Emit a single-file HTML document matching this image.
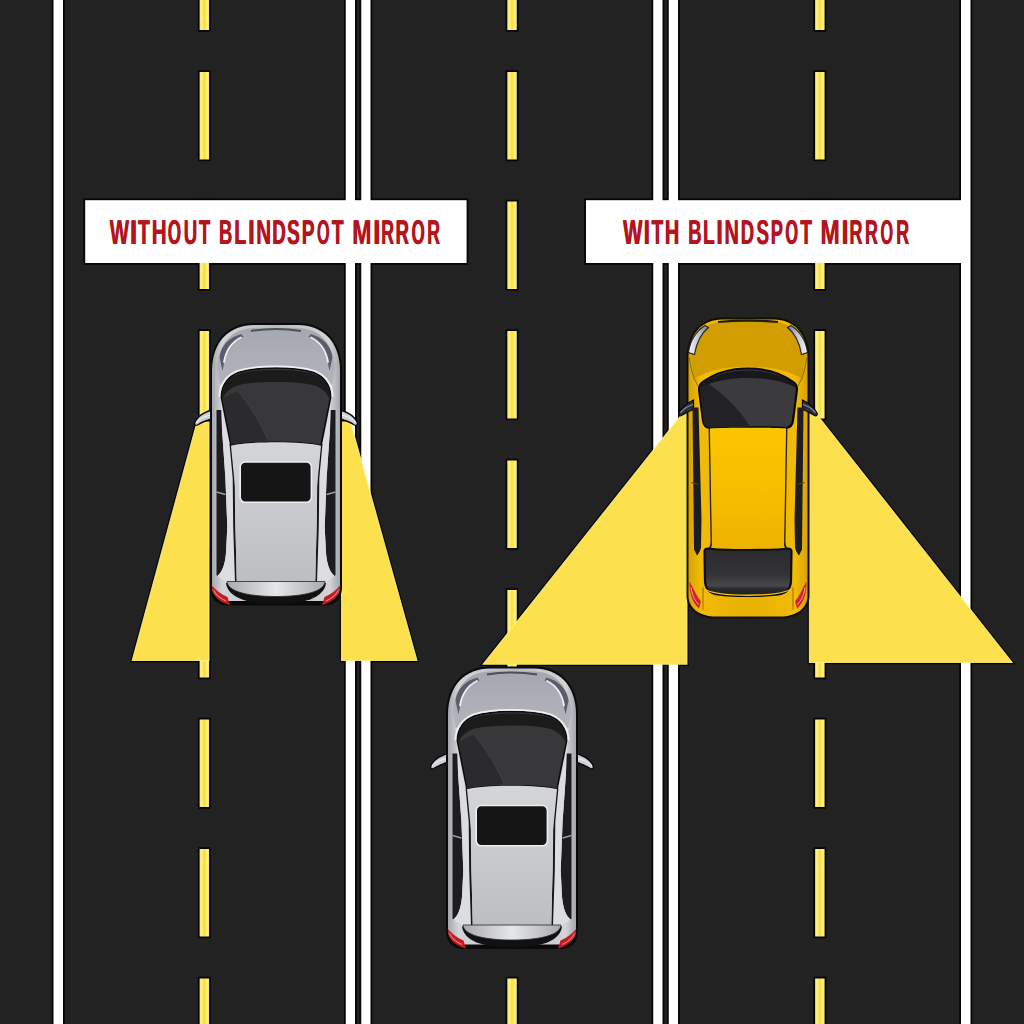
<!DOCTYPE html>
<html><head><meta charset="utf-8">
<style>
html,body{margin:0;padding:0;background:#222222;width:1024px;height:1024px;overflow:hidden}
svg{display:block}
</style></head>
<body>
<svg width="1024" height="1024" viewBox="0 0 1024 1024">
<defs>
<linearGradient id="dashG" x1="0" x2="1" y1="0" y2="0">
  <stop offset="0" stop-color="#efe070"/><stop offset="0.18" stop-color="#fff486"/><stop offset="0.5" stop-color="#fcdc40"/><stop offset="0.82" stop-color="#fff486"/><stop offset="1" stop-color="#efe070"/>
</linearGradient>
<linearGradient id="sBody" x1="0" x2="1" y1="0" y2="0">
  <stop offset="0" stop-color="#a5a6ac"/><stop offset="0.08" stop-color="#d3d4d8"/><stop offset="0.5" stop-color="#b9bac0"/><stop offset="0.92" stop-color="#d3d4d8"/><stop offset="1" stop-color="#a5a6ac"/>
</linearGradient>
<linearGradient id="sHood" x1="0" x2="0" y1="0" y2="1">
  <stop offset="0" stop-color="#a6a8b1"/><stop offset="1" stop-color="#b3b4bb"/>
</linearGradient>
<linearGradient id="sGlass" x1="0" x2="0" y1="0" y2="1">
  <stop offset="0" stop-color="#2c2c2e"/><stop offset="0.4" stop-color="#3f3f42"/><stop offset="1" stop-color="#2a2a2c"/>
</linearGradient>
<linearGradient id="sRoof" x1="0" x2="0" y1="0" y2="1">
  <stop offset="0" stop-color="#d4d5d8"/><stop offset="0.5" stop-color="#c9cacd"/><stop offset="1" stop-color="#bdbec2"/>
</linearGradient>
<linearGradient id="sSpoiler" x1="0" x2="1" y1="0" y2="0">
  <stop offset="0" stop-color="#a9aaae"/><stop offset="0.5" stop-color="#e6e7ea"/><stop offset="1" stop-color="#a9aaae"/>
</linearGradient>
<linearGradient id="yBody" x1="0" x2="1" y1="0" y2="0">
  <stop offset="0" stop-color="#d9a200"/><stop offset="0.1" stop-color="#f2bb08"/><stop offset="0.5" stop-color="#e9b100"/><stop offset="0.9" stop-color="#f2bb08"/><stop offset="1" stop-color="#d9a200"/>
</linearGradient>
<linearGradient id="yGlass" x1="0" x2="0" y1="0" y2="1">
  <stop offset="0" stop-color="#2e2e32"/><stop offset="1" stop-color="#444448"/>
</linearGradient>
<linearGradient id="yRoof" x1="0" x2="0" y1="0" y2="1">
  <stop offset="0" stop-color="#fbc500"/><stop offset="0.5" stop-color="#f7bf00"/><stop offset="1" stop-color="#ecb300"/>
</linearGradient>
<linearGradient id="yRear" x1="0" x2="0" y1="0" y2="1">
  <stop offset="0" stop-color="#2b2b2e"/><stop offset="0.55" stop-color="#333336"/><stop offset="0.78" stop-color="#48484b"/><stop offset="0.85" stop-color="#2a2a2c"/><stop offset="1" stop-color="#1e1e20"/>
</linearGradient>
<linearGradient id="yHL" x1="0" x2="1" y1="0" y2="0">
  <stop offset="0" stop-color="#f4f5fb"/><stop offset="0.6" stop-color="#b9bccb"/><stop offset="1" stop-color="#6d7080"/>
</linearGradient>
</defs>
<rect x="0" y="0" width="1024" height="1024" fill="#222222"/>
<g fill="#060606">
<rect x="51.70" y="-5" width="13.10" height="1034"/>
<rect x="343.95" y="-5" width="12.85" height="1034"/>
<rect x="359.45" y="-5" width="12.85" height="1034"/>
<rect x="651.45" y="-5" width="12.85" height="1034"/>
<rect x="666.95" y="-5" width="12.85" height="1034"/>
<rect x="959.20" y="-5" width="13.10" height="1034"/>
<rect x="83.4" y="198.4" width="385" height="66.4"/>
<rect x="584.2" y="198.4" width="380" height="66.4"/>
<rect x="197.8" y="-59.3" width="13.1" height="91.1" rx="1.2"/>
<rect x="197.8" y="70.2" width="13.1" height="91.1" rx="1.2"/>
<rect x="197.8" y="199.7" width="13.1" height="91.1" rx="1.2"/>
<rect x="197.8" y="329.2" width="13.1" height="91.1" rx="1.2"/>
<rect x="197.8" y="458.7" width="13.1" height="91.1" rx="1.2"/>
<rect x="197.8" y="588.2" width="13.1" height="91.1" rx="1.2"/>
<rect x="197.8" y="717.7" width="13.1" height="91.1" rx="1.2"/>
<rect x="197.8" y="847.2" width="13.1" height="91.1" rx="1.2"/>
<rect x="197.8" y="976.7" width="13.1" height="91.1" rx="1.2"/>
<rect x="197.8" y="1106.2" width="13.1" height="91.1" rx="1.2"/>
<rect x="505.5" y="-59.3" width="13.1" height="91.1" rx="1.2"/>
<rect x="505.5" y="70.2" width="13.1" height="91.1" rx="1.2"/>
<rect x="505.5" y="199.7" width="13.1" height="91.1" rx="1.2"/>
<rect x="505.5" y="329.2" width="13.1" height="91.1" rx="1.2"/>
<rect x="505.5" y="458.7" width="13.1" height="91.1" rx="1.2"/>
<rect x="505.5" y="588.2" width="13.1" height="91.1" rx="1.2"/>
<rect x="505.5" y="717.7" width="13.1" height="91.1" rx="1.2"/>
<rect x="505.5" y="847.2" width="13.1" height="91.1" rx="1.2"/>
<rect x="505.5" y="976.7" width="13.1" height="91.1" rx="1.2"/>
<rect x="505.5" y="1106.2" width="13.1" height="91.1" rx="1.2"/>
<rect x="813.3" y="-59.3" width="13.1" height="91.1" rx="1.2"/>
<rect x="813.3" y="70.2" width="13.1" height="91.1" rx="1.2"/>
<rect x="813.3" y="199.7" width="13.1" height="91.1" rx="1.2"/>
<rect x="813.3" y="329.2" width="13.1" height="91.1" rx="1.2"/>
<rect x="813.3" y="458.7" width="13.1" height="91.1" rx="1.2"/>
<rect x="813.3" y="588.2" width="13.1" height="91.1" rx="1.2"/>
<rect x="813.3" y="717.7" width="13.1" height="91.1" rx="1.2"/>
<rect x="813.3" y="847.2" width="13.1" height="91.1" rx="1.2"/>
<rect x="813.3" y="976.7" width="13.1" height="91.1" rx="1.2"/>
<rect x="813.3" y="1106.2" width="13.1" height="91.1" rx="1.2"/>
<polygon points="197,422 209,422 209,660.5 132.2,660.5" stroke="#060606" stroke-width="3.4" stroke-linejoin="miter"/>
<polygon points="341.5,422 350.5,422 417,660.5 341.5,660.5" stroke="#060606" stroke-width="3.4" stroke-linejoin="miter"/>
<polygon points="680.5,416 687,413 687,664.2 483,664.2" stroke="#060606" stroke-width="3.4" stroke-linejoin="miter"/>
<polygon points="809.4,413 818,416 1012.2,662.5 809.4,662.5" stroke="#060606" stroke-width="3.4" stroke-linejoin="miter"/>
</g>
<g fill="#ffffff">
<rect x="53.50" y="-5" width="9.50" height="1034"/>
<rect x="345.75" y="-5" width="9.25" height="1034"/>
<rect x="361.25" y="-5" width="9.25" height="1034"/>
<rect x="653.25" y="-5" width="9.25" height="1034"/>
<rect x="668.75" y="-5" width="9.25" height="1034"/>
<rect x="961.00" y="-5" width="9.50" height="1034"/>
</g>
<g fill="url(#dashG)">
<rect x="199.6" y="-57.5" width="9.5" height="87.5"/>
<rect x="199.6" y="72.0" width="9.5" height="87.5"/>
<rect x="199.6" y="201.5" width="9.5" height="87.5"/>
<rect x="199.6" y="331.0" width="9.5" height="87.5"/>
<rect x="199.6" y="460.5" width="9.5" height="87.5"/>
<rect x="199.6" y="590.0" width="9.5" height="87.5"/>
<rect x="199.6" y="719.5" width="9.5" height="87.5"/>
<rect x="199.6" y="849.0" width="9.5" height="87.5"/>
<rect x="199.6" y="978.5" width="9.5" height="87.5"/>
<rect x="199.6" y="1108.0" width="9.5" height="87.5"/>
<rect x="507.3" y="-57.5" width="9.5" height="87.5"/>
<rect x="507.3" y="72.0" width="9.5" height="87.5"/>
<rect x="507.3" y="201.5" width="9.5" height="87.5"/>
<rect x="507.3" y="331.0" width="9.5" height="87.5"/>
<rect x="507.3" y="460.5" width="9.5" height="87.5"/>
<rect x="507.3" y="590.0" width="9.5" height="87.5"/>
<rect x="507.3" y="719.5" width="9.5" height="87.5"/>
<rect x="507.3" y="849.0" width="9.5" height="87.5"/>
<rect x="507.3" y="978.5" width="9.5" height="87.5"/>
<rect x="507.3" y="1108.0" width="9.5" height="87.5"/>
<rect x="815.1" y="-57.5" width="9.5" height="87.5"/>
<rect x="815.1" y="72.0" width="9.5" height="87.5"/>
<rect x="815.1" y="201.5" width="9.5" height="87.5"/>
<rect x="815.1" y="331.0" width="9.5" height="87.5"/>
<rect x="815.1" y="460.5" width="9.5" height="87.5"/>
<rect x="815.1" y="590.0" width="9.5" height="87.5"/>
<rect x="815.1" y="719.5" width="9.5" height="87.5"/>
<rect x="815.1" y="849.0" width="9.5" height="87.5"/>
<rect x="815.1" y="978.5" width="9.5" height="87.5"/>
<rect x="815.1" y="1108.0" width="9.5" height="87.5"/>
</g>
<g fill="#fde04e" stroke="#fff184" stroke-width="1.1" stroke-opacity="0.85">
<polygon points="197,422 209,422 209,660.5 132.2,660.5"/>
<polygon points="341.5,422 350.5,422 417,660.5 341.5,660.5"/>
<polygon points="680.5,416 687,413 687,664.2 483,664.2"/>
<polygon points="809.4,413 818,416 1012.2,662.5 809.4,662.5"/>
</g>
<g fill="#ffffff">
<rect x="85.2" y="200.2" width="381.4" height="62.8"/>
<rect x="586" y="200.2" width="380" height="62.8"/>
</g>
<g font-family="Liberation Sans" font-weight="bold" font-size="34.448" text-rendering="geometricPrecision" fill="#b5141c">
<text transform="translate(109.38,243.80) scale(0.5923,1)">W</text>
<text transform="translate(109.98,243.80) scale(0.5923,1)">W</text>
<text transform="translate(129.62,243.80) scale(0.7714,1)">I</text>
<text transform="translate(130.22,243.80) scale(0.7714,1)">I</text>
<text transform="translate(137.79,243.80) scale(0.5529,1)">T</text>
<text transform="translate(138.39,243.80) scale(0.5529,1)">T</text>
<text transform="translate(151.52,243.80) scale(0.5984,1)">H</text>
<text transform="translate(152.12,243.80) scale(0.5984,1)">H</text>
<text transform="translate(167.61,243.80) scale(0.4894,1)">O</text>
<text transform="translate(168.21,243.80) scale(0.4894,1)">O</text>
<text transform="translate(183.38,243.80) scale(0.5419,1)">U</text>
<text transform="translate(183.98,243.80) scale(0.5419,1)">U</text>
<text transform="translate(198.70,243.80) scale(0.5332,1)">T</text>
<text transform="translate(199.30,243.80) scale(0.5332,1)">T</text>
<text transform="translate(218.77,243.80) scale(0.5339,1)">B</text>
<text transform="translate(219.37,243.80) scale(0.5339,1)">B</text>
<text transform="translate(234.10,243.80) scale(0.5613,1)">L</text>
<text transform="translate(234.70,243.80) scale(0.5613,1)">L</text>
<text transform="translate(247.81,243.80) scale(0.6902,1)">I</text>
<text transform="translate(248.41,243.80) scale(0.6902,1)">I</text>
<text transform="translate(255.92,243.80) scale(0.5984,1)">N</text>
<text transform="translate(256.52,243.80) scale(0.5984,1)">N</text>
<text transform="translate(272.06,243.80) scale(0.5360,1)">D</text>
<text transform="translate(272.66,243.80) scale(0.5360,1)">D</text>
<text transform="translate(286.85,243.80) scale(0.5486,1)">S</text>
<text transform="translate(287.45,243.80) scale(0.5486,1)">S</text>
<text transform="translate(301.52,243.80) scale(0.5549,1)">P</text>
<text transform="translate(302.12,243.80) scale(0.5549,1)">P</text>
<text transform="translate(316.64,243.80) scale(0.4685,1)">O</text>
<text transform="translate(317.24,243.80) scale(0.4685,1)">O</text>
<text transform="translate(331.59,243.80) scale(0.5529,1)">T</text>
<text transform="translate(332.19,243.80) scale(0.5529,1)">T</text>
<text transform="translate(351.95,243.80) scale(0.6696,1)">M</text>
<text transform="translate(352.55,243.80) scale(0.6696,1)">M</text>
<text transform="translate(372.82,243.80) scale(0.7714,1)">I</text>
<text transform="translate(373.42,243.80) scale(0.7714,1)">I</text>
<text transform="translate(380.91,243.80) scale(0.5136,1)">R</text>
<text transform="translate(381.51,243.80) scale(0.5136,1)">R</text>
<text transform="translate(395.36,243.80) scale(0.5366,1)">R</text>
<text transform="translate(395.96,243.80) scale(0.5366,1)">R</text>
<text transform="translate(411.31,243.80) scale(0.4894,1)">O</text>
<text transform="translate(411.91,243.80) scale(0.4894,1)">O</text>
<text transform="translate(427.01,243.80) scale(0.5136,1)">R</text>
<text transform="translate(427.61,243.80) scale(0.5136,1)">R</text>
<text transform="translate(622.78,243.80) scale(0.5923,1)">W</text>
<text transform="translate(623.38,243.80) scale(0.5923,1)">W</text>
<text transform="translate(643.21,243.80) scale(0.6902,1)">I</text>
<text transform="translate(643.81,243.80) scale(0.6902,1)">I</text>
<text transform="translate(651.19,243.80) scale(0.5579,1)">T</text>
<text transform="translate(651.79,243.80) scale(0.5579,1)">T</text>
<text transform="translate(664.56,243.80) scale(0.5786,1)">H</text>
<text transform="translate(665.16,243.80) scale(0.5786,1)">H</text>
<text transform="translate(687.97,243.80) scale(0.5339,1)">B</text>
<text transform="translate(688.57,243.80) scale(0.5339,1)">B</text>
<text transform="translate(702.70,243.80) scale(0.5613,1)">L</text>
<text transform="translate(703.30,243.80) scale(0.5613,1)">L</text>
<text transform="translate(716.05,243.80) scale(0.6699,1)">I</text>
<text transform="translate(716.65,243.80) scale(0.6699,1)">I</text>
<text transform="translate(724.16,243.80) scale(0.5786,1)">N</text>
<text transform="translate(724.76,243.80) scale(0.5786,1)">N</text>
<text transform="translate(740.46,243.80) scale(0.5360,1)">D</text>
<text transform="translate(741.06,243.80) scale(0.5360,1)">D</text>
<text transform="translate(756.16,243.80) scale(0.5437,1)">S</text>
<text transform="translate(756.76,243.80) scale(0.5437,1)">S</text>
<text transform="translate(770.38,243.80) scale(0.5292,1)">P</text>
<text transform="translate(770.98,243.80) scale(0.5292,1)">P</text>
<text transform="translate(785.03,243.80) scale(0.4727,1)">O</text>
<text transform="translate(785.63,243.80) scale(0.4727,1)">O</text>
<text transform="translate(799.99,243.80) scale(0.5579,1)">T</text>
<text transform="translate(800.59,243.80) scale(0.5579,1)">T</text>
<text transform="translate(820.15,243.80) scale(0.6696,1)">M</text>
<text transform="translate(820.75,243.80) scale(0.6696,1)">M</text>
<text transform="translate(841.36,243.80) scale(0.7105,1)">I</text>
<text transform="translate(841.96,243.80) scale(0.7105,1)">I</text>
<text transform="translate(849.19,243.80) scale(0.5228,1)">R</text>
<text transform="translate(849.79,243.80) scale(0.5228,1)">R</text>
<text transform="translate(864.70,243.80) scale(0.5182,1)">R</text>
<text transform="translate(865.30,243.80) scale(0.5182,1)">R</text>
<text transform="translate(880.24,243.80) scale(0.4685,1)">O</text>
<text transform="translate(880.84,243.80) scale(0.4685,1)">O</text>
<text transform="translate(895.90,243.80) scale(0.5182,1)">R</text>
<text transform="translate(896.50,243.80) scale(0.5182,1)">R</text>
</g>

<g transform="translate(276,325)"><g>
  <path d="M -81,97 C -78,90.5 -70,86 -62,84.5 L -61.5,93.5 C -67.5,94.5 -74,97 -78.5,100 C -80.5,101 -82,99.5 -81,97 Z" fill="#cfd0d5" stroke="#090909" stroke-width="1.3"/>
  <path d="M -80,97.5 C -76,93 -70,90.5 -63,89.5" fill="none" stroke="#f2f3f6" stroke-width="1"/>
<g transform="scale(-1,1)">
  <path d="M -81,97 C -78,90.5 -70,86 -62,84.5 L -61.5,93.5 C -67.5,94.5 -74,97 -78.5,100 C -80.5,101 -82,99.5 -81,97 Z" fill="#cfd0d5" stroke="#090909" stroke-width="1.3"/>
  <path d="M -80,97.5 C -76,93 -70,90.5 -63,89.5" fill="none" stroke="#f2f3f6" stroke-width="1"/>
</g>
  <path d="M -22,-2 L 22,-2 C 48,-2 66,16 66,46 L 66,262 C 66,273 60,280.5 48,280.5 L -48,280.5 C -60,280.5 -66,273 -66,262 L -66,46 C -66,16 -48,-2 -22,-2 Z" fill="#0a0a0a"/>
  <path d="M -22,0 L 22,0 C 46,0 64,16 64,46 L 64,262 C 64,268 60,274 52,276 L -52,276 C -60,274 -64,268 -64,262 L -64,46 C -64,16 -46,0 -22,0 Z" fill="url(#sBody)"/>
  <path d="M -22,3 L 22,3 C 42,3 58,17 59,44 L 56,60 C 40,48 20,43 0,43 C -20,43 -40,48 -56,60 L -59,44 C -58,17 -42,3 -22,3 Z" fill="url(#sHood)"/>
  <path d="M -25,6 C -10,3.5 10,3.5 25,6" fill="none" stroke="#4e4f58" stroke-width="2"/>

  <path d="M -56.5,32 C -55,21 -47,12 -34.5,9 L -32.5,12 C -42,16 -49,24 -51.5,36 L -53.5,46 Z" fill="#5c5d6b"/>
  <path d="M -52,37 C -50,25 -44,17 -35,12.5" fill="none" stroke="#eef0f8" stroke-width="1.8" stroke-linecap="round"/>
  <path d="M -59.5,85 L -54.5,85 L -54,104.5 L -50.6,153 L -48.7,202 L -50,228 C -51,240 -54,247 -58.5,251 L -59.5,250 Z" fill="#1d1d20"/>
  <path d="M -59.5,167 L -50.5,169.5" stroke="#9c9da3" stroke-width="1.3"/>
  <path d="M -56.5,59 L -54.5,85 L -54,104.5 L -50.6,153 L -48.7,202 L -50,228 C -51,240 -54,247 -58.5,251 L -50.5,257 L -40,257 L -42,202 L -42.3,153 L -44,122 L -45.5,119 L -48.5,110 L -56,72 L -54.5,61 Z" fill="#dcdde0"/>
  <path d="M -45.5,119 L -42.3,153 L -41.8,202 L -40,257" fill="none" stroke="#161616" stroke-width="2"/>
  <path d="M -64.5,260 C -63.5,270 -58,277 -46,280 L -48.5,272 C -55,269 -60,265.5 -64.5,260 Z" fill="#c41a20"/>
  <path d="M -62.5,265 C -60,270 -56,273.5 -50,276" fill="none" stroke="#f27a7a" stroke-width="1.1"/>
<g transform="scale(-1,1)">
  <path d="M -56.5,32 C -55,21 -47,12 -34.5,9 L -32.5,12 C -42,16 -49,24 -51.5,36 L -53.5,46 Z" fill="#5c5d6b"/>
  <path d="M -52,37 C -50,25 -44,17 -35,12.5" fill="none" stroke="#eef0f8" stroke-width="1.8" stroke-linecap="round"/>
  <path d="M -59.5,85 L -54.5,85 L -54,104.5 L -50.6,153 L -48.7,202 L -50,228 C -51,240 -54,247 -58.5,251 L -59.5,250 Z" fill="#1d1d20"/>
  <path d="M -59.5,167 L -50.5,169.5" stroke="#9c9da3" stroke-width="1.3"/>
  <path d="M -56.5,59 L -54.5,85 L -54,104.5 L -50.6,153 L -48.7,202 L -50,228 C -51,240 -54,247 -58.5,251 L -50.5,257 L -40,257 L -42,202 L -42.3,153 L -44,122 L -45.5,119 L -48.5,110 L -56,72 L -54.5,61 Z" fill="#dcdde0"/>
  <path d="M -45.5,119 L -42.3,153 L -41.8,202 L -40,257" fill="none" stroke="#161616" stroke-width="2"/>
  <path d="M -64.5,260 C -63.5,270 -58,277 -46,280 L -48.5,272 C -55,269 -60,265.5 -64.5,260 Z" fill="#c41a20"/>
  <path d="M -62.5,265 C -60,270 -56,273.5 -50,276" fill="none" stroke="#f27a7a" stroke-width="1.1"/>
</g>
  <path d="M -54.7,72 C -54.7,60 -47,51 -37.6,47.5 C -26,43.8 -13,43 0,43 C 13,43 26,43.8 37.6,47.5 C 47,51 54.7,60 54.7,72 L 45,120.7 C 30,116 -30,116 -45,120.7 Z" fill="#38383b" stroke="#0b0b0b" stroke-width="1.6"/>
  <path d="M -53.5,73 L -38,66 C -25,82 -14,100 -8,115.5 C -25,116.5 -38,118 -44,119.5 Z" fill="#2b2b2d"/>
  <path d="M -38,66 C -25,82 -14,100 -8,115.5" fill="none" stroke="#404043" stroke-width="1"/>
  <path d="M -53.8,70 C -53.5,60 -46.5,52 -37.6,49 C -26,45.5 -13,45 0,45 C 13,45 26,45.5 37.6,49 C 46.5,52 53.8,60 53.8,70 L 53.2,73.5 C 50,66 44,62 37,60 C 26,57.5 13,57 0,57 C -13,57 -26,57.5 -37,60 C -44,62 -50,66 -53.2,73.5 Z" fill="#1b1b1c"/>
  <path d="M -56.6,72 C -56.6,58.5 -48.5,49.5 -38.2,45.8 C -26.5,42 -13,41.3 0,41.3 C 13,41.3 26.5,42 38.2,45.8 C 48.5,49.5 56.6,58.5 56.6,72" fill="none" stroke="#eff0f3" stroke-width="1.7"/>
  <path d="M -45,120.7 C -30,116 30,116 45,120.7 L 41,162 L 39.5,257 L -39.5,257 L -41,162 Z" fill="url(#sRoof)"/>
  <rect x="-35.8" y="137" width="71.2" height="40.3" rx="5" fill="#151515" stroke="#eceef0" stroke-width="1.6"/>
  <path d="M -50,258 C -48,273 -28,279 0,279 C 28,279 48,273 50,258 Z" fill="#111111"/>
  <path d="M -49,256.5 L 49,256.5 C 48.5,266 30,271.5 0,271.5 C -30,271.5 -48.5,266 -49,256.5 Z" fill="url(#sSpoiler)" stroke="#262626" stroke-width="0.8"/>
</g></g>
<g transform="translate(512,668.5)"><g>
  <path d="M -81,97 C -78,90.5 -70,86 -62,84.5 L -61.5,93.5 C -67.5,94.5 -74,97 -78.5,100 C -80.5,101 -82,99.5 -81,97 Z" fill="#cfd0d5" stroke="#090909" stroke-width="1.3"/>
  <path d="M -80,97.5 C -76,93 -70,90.5 -63,89.5" fill="none" stroke="#f2f3f6" stroke-width="1"/>
<g transform="scale(-1,1)">
  <path d="M -81,97 C -78,90.5 -70,86 -62,84.5 L -61.5,93.5 C -67.5,94.5 -74,97 -78.5,100 C -80.5,101 -82,99.5 -81,97 Z" fill="#cfd0d5" stroke="#090909" stroke-width="1.3"/>
  <path d="M -80,97.5 C -76,93 -70,90.5 -63,89.5" fill="none" stroke="#f2f3f6" stroke-width="1"/>
</g>
  <path d="M -22,-2 L 22,-2 C 48,-2 66,16 66,46 L 66,262 C 66,273 60,280.5 48,280.5 L -48,280.5 C -60,280.5 -66,273 -66,262 L -66,46 C -66,16 -48,-2 -22,-2 Z" fill="#0a0a0a"/>
  <path d="M -22,0 L 22,0 C 46,0 64,16 64,46 L 64,262 C 64,268 60,274 52,276 L -52,276 C -60,274 -64,268 -64,262 L -64,46 C -64,16 -46,0 -22,0 Z" fill="url(#sBody)"/>
  <path d="M -22,3 L 22,3 C 42,3 58,17 59,44 L 56,60 C 40,48 20,43 0,43 C -20,43 -40,48 -56,60 L -59,44 C -58,17 -42,3 -22,3 Z" fill="url(#sHood)"/>
  <path d="M -25,6 C -10,3.5 10,3.5 25,6" fill="none" stroke="#4e4f58" stroke-width="2"/>

  <path d="M -56.5,32 C -55,21 -47,12 -34.5,9 L -32.5,12 C -42,16 -49,24 -51.5,36 L -53.5,46 Z" fill="#5c5d6b"/>
  <path d="M -52,37 C -50,25 -44,17 -35,12.5" fill="none" stroke="#eef0f8" stroke-width="1.8" stroke-linecap="round"/>
  <path d="M -59.5,85 L -54.5,85 L -54,104.5 L -50.6,153 L -48.7,202 L -50,228 C -51,240 -54,247 -58.5,251 L -59.5,250 Z" fill="#1d1d20"/>
  <path d="M -59.5,167 L -50.5,169.5" stroke="#9c9da3" stroke-width="1.3"/>
  <path d="M -56.5,59 L -54.5,85 L -54,104.5 L -50.6,153 L -48.7,202 L -50,228 C -51,240 -54,247 -58.5,251 L -50.5,257 L -40,257 L -42,202 L -42.3,153 L -44,122 L -45.5,119 L -48.5,110 L -56,72 L -54.5,61 Z" fill="#dcdde0"/>
  <path d="M -45.5,119 L -42.3,153 L -41.8,202 L -40,257" fill="none" stroke="#161616" stroke-width="2"/>
  <path d="M -64.5,260 C -63.5,270 -58,277 -46,280 L -48.5,272 C -55,269 -60,265.5 -64.5,260 Z" fill="#c41a20"/>
  <path d="M -62.5,265 C -60,270 -56,273.5 -50,276" fill="none" stroke="#f27a7a" stroke-width="1.1"/>
<g transform="scale(-1,1)">
  <path d="M -56.5,32 C -55,21 -47,12 -34.5,9 L -32.5,12 C -42,16 -49,24 -51.5,36 L -53.5,46 Z" fill="#5c5d6b"/>
  <path d="M -52,37 C -50,25 -44,17 -35,12.5" fill="none" stroke="#eef0f8" stroke-width="1.8" stroke-linecap="round"/>
  <path d="M -59.5,85 L -54.5,85 L -54,104.5 L -50.6,153 L -48.7,202 L -50,228 C -51,240 -54,247 -58.5,251 L -59.5,250 Z" fill="#1d1d20"/>
  <path d="M -59.5,167 L -50.5,169.5" stroke="#9c9da3" stroke-width="1.3"/>
  <path d="M -56.5,59 L -54.5,85 L -54,104.5 L -50.6,153 L -48.7,202 L -50,228 C -51,240 -54,247 -58.5,251 L -50.5,257 L -40,257 L -42,202 L -42.3,153 L -44,122 L -45.5,119 L -48.5,110 L -56,72 L -54.5,61 Z" fill="#dcdde0"/>
  <path d="M -45.5,119 L -42.3,153 L -41.8,202 L -40,257" fill="none" stroke="#161616" stroke-width="2"/>
  <path d="M -64.5,260 C -63.5,270 -58,277 -46,280 L -48.5,272 C -55,269 -60,265.5 -64.5,260 Z" fill="#c41a20"/>
  <path d="M -62.5,265 C -60,270 -56,273.5 -50,276" fill="none" stroke="#f27a7a" stroke-width="1.1"/>
</g>
  <path d="M -54.7,72 C -54.7,60 -47,51 -37.6,47.5 C -26,43.8 -13,43 0,43 C 13,43 26,43.8 37.6,47.5 C 47,51 54.7,60 54.7,72 L 45,120.7 C 30,116 -30,116 -45,120.7 Z" fill="#38383b" stroke="#0b0b0b" stroke-width="1.6"/>
  <path d="M -53.5,73 L -38,66 C -25,82 -14,100 -8,115.5 C -25,116.5 -38,118 -44,119.5 Z" fill="#2b2b2d"/>
  <path d="M -38,66 C -25,82 -14,100 -8,115.5" fill="none" stroke="#404043" stroke-width="1"/>
  <path d="M -53.8,70 C -53.5,60 -46.5,52 -37.6,49 C -26,45.5 -13,45 0,45 C 13,45 26,45.5 37.6,49 C 46.5,52 53.8,60 53.8,70 L 53.2,73.5 C 50,66 44,62 37,60 C 26,57.5 13,57 0,57 C -13,57 -26,57.5 -37,60 C -44,62 -50,66 -53.2,73.5 Z" fill="#1b1b1c"/>
  <path d="M -56.6,72 C -56.6,58.5 -48.5,49.5 -38.2,45.8 C -26.5,42 -13,41.3 0,41.3 C 13,41.3 26.5,42 38.2,45.8 C 48.5,49.5 56.6,58.5 56.6,72" fill="none" stroke="#eff0f3" stroke-width="1.7"/>
  <path d="M -45,120.7 C -30,116 30,116 45,120.7 L 41,162 L 39.5,257 L -39.5,257 L -41,162 Z" fill="url(#sRoof)"/>
  <rect x="-35.8" y="137" width="71.2" height="40.3" rx="5" fill="#151515" stroke="#eceef0" stroke-width="1.6"/>
  <path d="M -50,258 C -48,273 -28,279 0,279 C 28,279 48,273 50,258 Z" fill="#111111"/>
  <path d="M -49,256.5 L 49,256.5 C 48.5,266 30,271.5 0,271.5 C -30,271.5 -48.5,266 -49,256.5 Z" fill="url(#sSpoiler)" stroke="#262626" stroke-width="0.8"/>
</g></g>
<g transform="translate(748,319.5)"><g>
  <path d="M -26,-2 L 26,-2 C 47,-2 61.5,14 61.5,38 L 61.5,276 C 61.5,290 50,299 32,299 L -32,299 C -50,299 -61.5,290 -61.5,276 L -61.5,38 C -61.5,14 -47,-2 -26,-2 Z" fill="#120e02"/>
  <path d="M -26,0 L 26,0 C 46,0 59.5,15 59.5,38 L 59.5,276 C 59.5,289 48,297 32,297 L -32,297 C -48,297 -59.5,289 -59.5,276 L -59.5,38 C -59.5,15 -46,0 -26,0 Z" fill="url(#yBody)"/>
  <path d="M -26,2.5 L 26,2.5 C 43,2.5 56.5,16 56.5,38 L 55,60 C 40,50 20,47 0,47 C -20,47 -40,50 -55,60 L -56.5,38 C -56.5,16 -43,2.5 -26,2.5 Z" fill="#d19d00"/>
  <path d="M -30,2.5 C -12,0.8 12,0.8 30,2.5" fill="none" stroke="#241c04" stroke-width="2.2"/>

  <path d="M -69,93.5 C -66,88 -60,83 -54.5,80.5 L -54.5,90 C -59,91.5 -63.5,94 -66.5,96 C -68.5,97 -70,95.5 -69,93.5 Z" fill="#2e2f38" stroke="#0a0a0a" stroke-width="1.2"/>
  <path d="M -67.5,93 C -64.5,89.5 -60,86.5 -55,85" fill="none" stroke="#8f92a3" stroke-width="1.2"/>
<g transform="scale(-1,1)">
  <path d="M -69,93.5 C -66,88 -60,83 -54.5,80.5 L -54.5,90 C -59,91.5 -63.5,94 -66.5,96 C -68.5,97 -70,95.5 -69,93.5 Z" fill="#2e2f38" stroke="#0a0a0a" stroke-width="1.2"/>
  <path d="M -67.5,93 C -64.5,89.5 -60,86.5 -55,85" fill="none" stroke="#8f92a3" stroke-width="1.2"/>
</g>
  <path d="M -59.5,33 C -58,21 -52,12 -43,6 L -39.5,8 C -47,14 -51.5,23 -53.5,35 Z" fill="url(#yHL)" stroke="#22222a" stroke-width="1.1"/>
  <path d="M -58.5,38 C -57.5,50 -54,60 -49.5,67" fill="none" stroke="#8d6a00" stroke-width="1"/>
  <path d="M -55.5,88 L -49.5,88 L -46.5,200 L -47,228 C -48,232 -49.5,234 -51,236 L -54,230 Z" fill="#1c1c22"/>
  <path d="M -56.5,163 L -50,165" stroke="#5b4500" stroke-width="1.1"/>
  <path d="M -38.5,108 L -36.5,222 C -36.5,226 -38,229 -40,231" fill="none" stroke="#2e2300" stroke-width="1.9"/>
  <path d="M -58.5,262 C -58.5,274 -56,283 -49,289 L -47,282 C -51,277 -54,270 -58.5,262 Z" fill="#d42329"/>
  <path d="M -57,268 C -56,276 -53,281 -49.5,285" fill="none" stroke="#f5a0a0" stroke-width="1"/>
<g transform="scale(-1,1)">
  <path d="M -59.5,33 C -58,21 -52,12 -43,6 L -39.5,8 C -47,14 -51.5,23 -53.5,35 Z" fill="url(#yHL)" stroke="#22222a" stroke-width="1.1"/>
  <path d="M -58.5,38 C -57.5,50 -54,60 -49.5,67" fill="none" stroke="#8d6a00" stroke-width="1"/>
  <path d="M -55.5,88 L -49.5,88 L -46.5,200 L -47,228 C -48,232 -49.5,234 -51,236 L -54,230 Z" fill="#1c1c22"/>
  <path d="M -56.5,163 L -50,165" stroke="#5b4500" stroke-width="1.1"/>
  <path d="M -38.5,108 L -36.5,222 C -36.5,226 -38,229 -40,231" fill="none" stroke="#2e2300" stroke-width="1.9"/>
  <path d="M -58.5,262 C -58.5,274 -56,283 -49,289 L -47,282 C -51,277 -54,270 -58.5,262 Z" fill="#d42329"/>
  <path d="M -57,268 C -56,276 -53,281 -49.5,285" fill="none" stroke="#f5a0a0" stroke-width="1"/>
</g>
  <path d="M -49,70 C -49,66.5 -47.5,64 -45,62.5 C -33,53.5 -17,49 0,49 C 17,49 33,53.5 45,62.5 C 47.5,64 49,66.5 49,70 L 45,101 C 44.5,105 42,108 38,108.5 C 25,107.5 -25,107.5 -38,108.5 C -42,108 -44.5,105 -45,101 Z" fill="#3a3a3f" stroke="#0b0b0b" stroke-width="2.2"/>
  <path d="M -40,64 C -25,74 -8,90 2,107.5 L -38,108 C -42,108 -44,105 -44.5,101 L -48,70 C -48,66.5 -44,64 -40,64 Z" fill="#222226"/>
  <path d="M -46.5,64 C -34,55.5 -17,51 0,51 C 17,51 34,55.5 46.5,64 L 47,68 C 34,61 17,58.5 0,58.5 C -17,58.5 -34,61 -47,68 Z" fill="#18181a"/>
  <path d="M -38,109 C -25,108 25,108 38,109 L 36,228 L -36,228 Z" fill="url(#yRoof)"/>
  <path d="M -43.5,232 C -43.5,230 -42,229 -40,229 C -25,231 25,231 40,229 C 42,229 43.5,230 43.5,232 L 43,262 C 42.5,270 38,274 30,275 C 15,277 -15,277 -30,275 C -38,274 -42.5,270 -43,262 Z" fill="url(#yRear)" stroke="#0e0e0e" stroke-width="2.2"/>
  <path d="M -45,269 C -30,278 30,278 45,269" fill="none" stroke="#f3bd10" stroke-width="1.4"/>
  <path d="M -45,268 L -45,290 M 45,268 L 45,290" fill="none" stroke="#8f6800" stroke-width="0.9"/>
</g></g>
</svg>
</body></html>
